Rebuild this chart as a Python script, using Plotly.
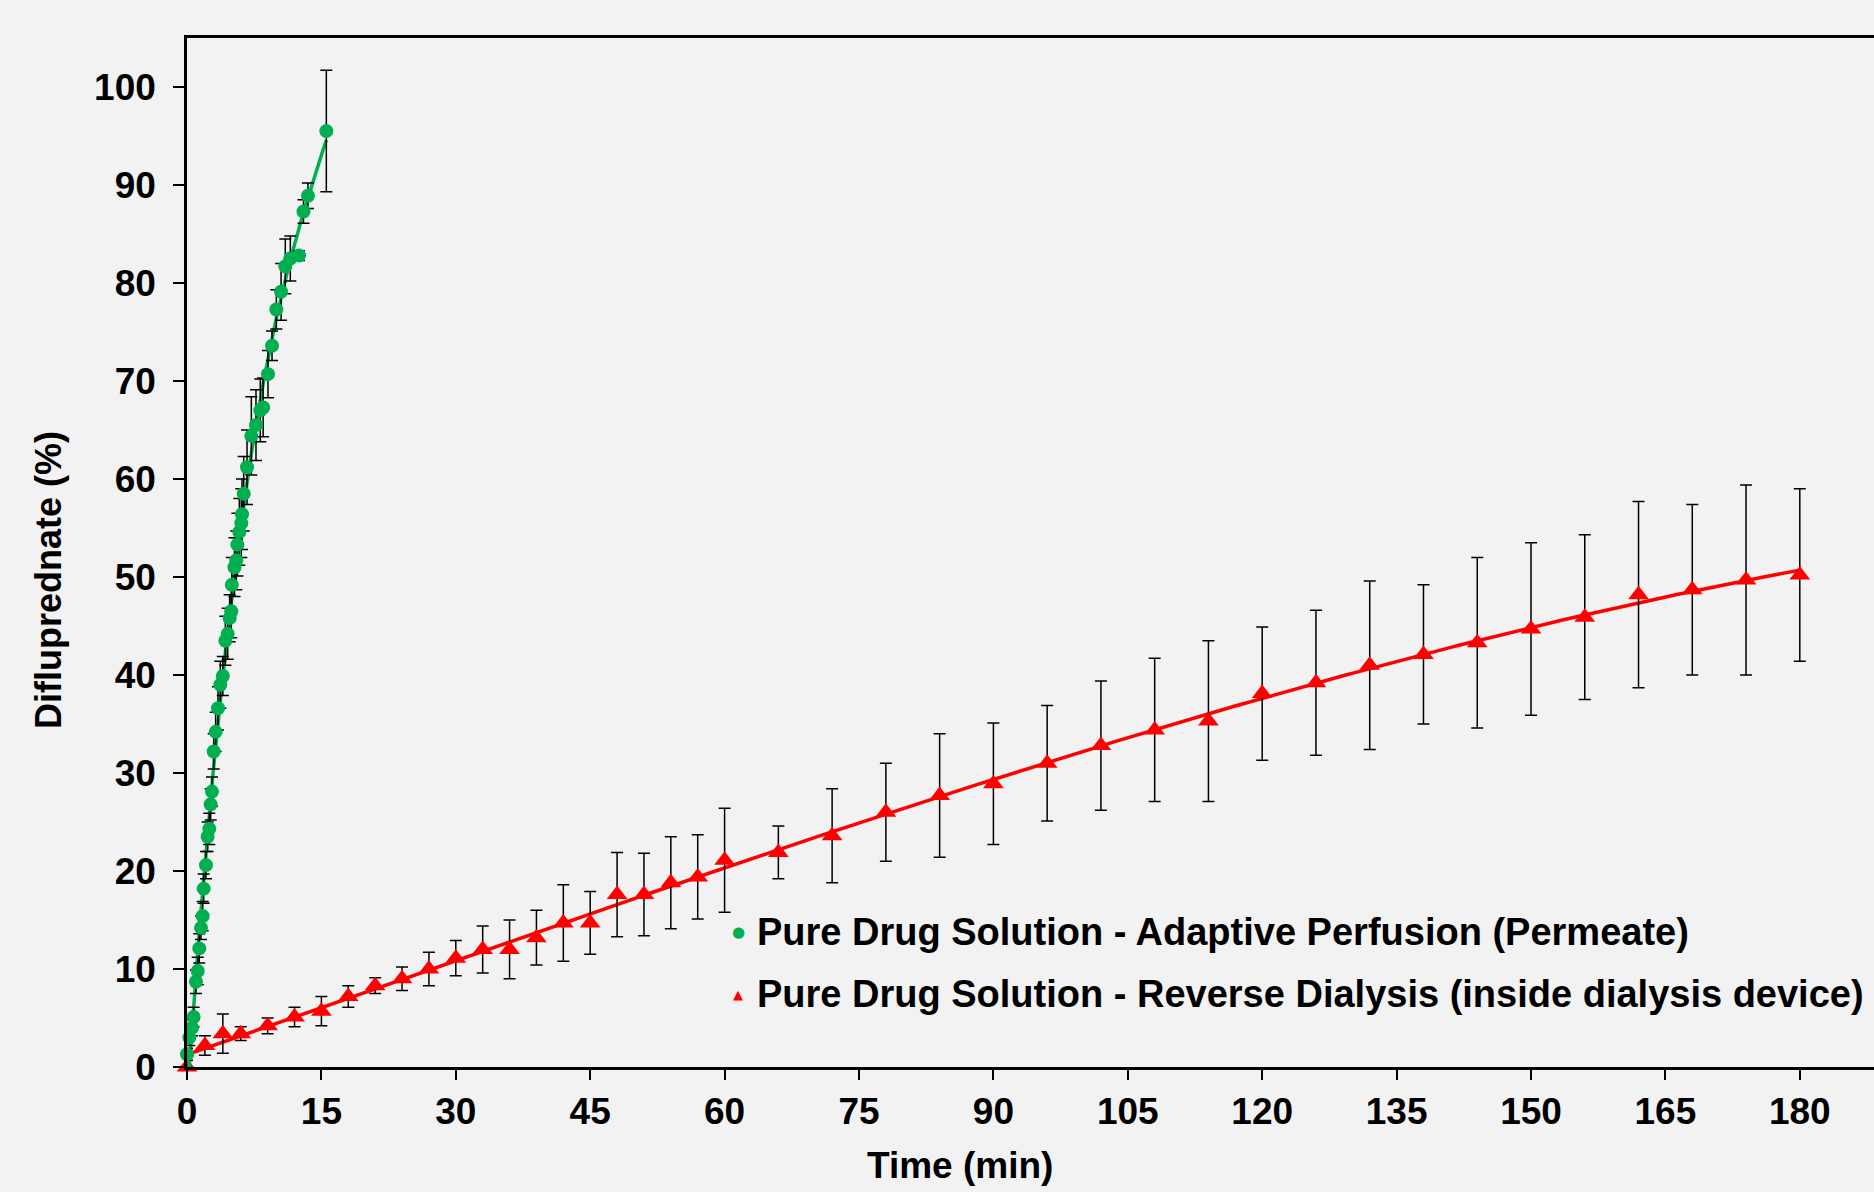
import numpy as np
import plotly.graph_objects as go

# ---- Data: Pure Drug Solution - Adaptive Perfusion (Permeate) ----
green_time = [0.0, 0.26, 0.56, 0.74, 1.0, 1.2, 1.37, 1.56, 1.75, 1.86, 2.12, 2.3, 2.49, 2.64,
              2.79, 2.98, 3.2, 3.46, 3.72, 4.0, 4.28, 4.54, 4.76, 4.94, 5.0, 5.3, 5.5, 5.62,
              5.84, 6.06, 6.14, 6.33, 6.7, 7.18, 7.7, 8.18, 8.5, 9.04, 9.49, 9.97, 10.5,
              10.97, 11.53, 12.5, 13.0, 13.5, 15.55]
green_value = [1.3, 3.0, 4.0, 5.1, 8.7, 9.8, 12.1, 14.2, 15.4, 18.2, 20.6, 23.5, 24.3, 26.8,
               28.1, 32.2, 34.2, 36.6, 39.0, 39.9, 43.5, 44.2, 45.8, 46.5, 49.2, 51.0, 51.7, 53.3,
               54.6, 55.5, 56.4, 58.5, 61.2, 64.4, 65.5, 67.0, 67.3, 70.7, 73.6, 77.3, 79.1,
               81.7, 82.5, 82.8, 87.3, 88.9, 95.5]
green_err = [0.6, 0.8, 0.8, 1.0, 1.2, 1.4, 1.5, 1.2, 1.5, 1.5, 1.4, 1.5, 1.6, 1.6,
             1.5, 1.8, 2.0, 2.2, 2.4, 2.0, 2.5, 2.6, 2.4, 2.7, 2.8, 3.0, 3.0, 3.2,
             3.4, 3.5, 3.6, 3.8, 3.8, 4.0, 3.6, 3.2, 3.0, 2.4, 1.5, 2.0, 2.9,
             2.8, 2.3, 0.5, 1.2, 1.3, 6.2]

# ---- Data: Pure Drug Solution - Reverse Dialysis (inside dialysis device) ----
red_time = [0, 2, 4, 6, 9, 12, 15, 18, 21, 24, 27, 30, 33, 36, 39, 42, 45, 48, 51, 54, 57, 60,
            66, 72, 78, 84, 90, 96, 102, 108, 114, 120, 126, 132, 138, 144, 150, 156, 162,
            168, 174, 180]
red_value = [0.0, 2.2, 3.4, 3.4, 4.2, 5.1, 5.7, 7.2, 8.3, 9.0, 10.0, 11.1, 12.0, 12.0, 13.2,
             14.7, 14.7, 17.6, 17.6, 18.8, 19.4, 21.1, 21.9, 23.6, 26.0, 27.7, 28.9, 31.0,
             32.8, 34.4, 35.3, 38.1, 39.2, 41.0, 42.1, 43.3, 44.7, 45.9, 48.2, 48.7, 49.7, 50.2]
red_err = [0.0, 1.0, 2.0, 0.7, 0.8, 1.0, 1.5, 1.1, 0.8, 1.2, 1.7, 1.8, 2.4, 3.0, 2.8,
           3.9, 3.2, 4.3, 4.2, 4.7, 4.3, 5.3, 2.7, 4.8, 5.0, 6.3, 6.2, 5.9,
           6.6, 7.3, 8.2, 6.8, 7.4, 8.6, 7.1, 8.7, 8.8, 8.4, 9.5, 8.7, 9.7, 8.8]

x_ticks = [0, 15, 30, 45, 60, 75, 90, 105, 120, 135, 150, 165, 180]
y_ticks = [0, 10, 20, 30, 40, 50, 60, 70, 80, 90, 100]

legend_green = "Pure Drug Solution - Adaptive Perfusion (Permeate)"
legend_red = "Pure Drug Solution - Reverse Dialysis (inside dialysis device)"

GREEN = "#00B050"
RED = "#FF0000"
BG = "#F2F2F2"
FONT = "Liberation Sans, Arial, sans-serif"
SYMFONT = "DejaVu Sans, Liberation Sans, sans-serif"

L, T, B = 187, 38, 125
PW = 1874 - L
PH = 1192 - T - B


def px(xp):
    return (xp - L) / PW


def py(yp):
    return (1192 - B - yp) / PH


# polynomial trendlines (as in the source chart)
gcoef = np.polyfit(green_time, green_value, 3)
gx = np.linspace(min(green_time), max(green_time), 200)
gy = np.polyval(gcoef, gx)
rcoef = np.polyfit(red_time, red_value, 3)
rx = np.linspace(min(red_time), max(red_time), 300)
ry = np.polyval(rcoef, rx)

fig = go.Figure()

fig.add_trace(go.Scatter(x=rx, y=ry, mode="lines", line=dict(color=RED, width=3.5),
                         showlegend=False, hoverinfo="skip"))
fig.add_trace(go.Scatter(x=red_time, y=red_value, mode="markers", name=legend_red,
                         marker=dict(symbol="triangle-up", size=18, color=RED),
                         error_y=dict(type="data", array=red_err, color="black",
                                      thickness=1.5, width=6),
                         showlegend=False, cliponaxis=False))
fig.add_trace(go.Scatter(x=gx, y=gy, mode="lines", line=dict(color=GREEN, width=3.5),
                         showlegend=False, hoverinfo="skip"))
fig.add_trace(go.Scatter(x=green_time, y=green_value, mode="markers", name=legend_green,
                         marker=dict(symbol="circle", size=14, color=GREEN),
                         error_y=dict(type="data", array=green_err, color="black",
                                      thickness=1.5, width=6),
                         showlegend=False, cliponaxis=False))

legend_rows = [(legend_green, "●", GREEN, 15, 932), (legend_red, "▲", RED, 13, 994)]
annotations = []
for label, sym, col, ssize, yrow in legend_rows:
    annotations.append(dict(text=sym, xref="paper", yref="paper", x=px(738), y=py(yrow),
                            xanchor="center", yanchor="middle", showarrow=False,
                            font=dict(family=SYMFONT, size=ssize, color=col)))
    annotations.append(dict(text="<b>" + label + "</b>", xref="paper", yref="paper",
                            x=px(755), y=py(yrow), xanchor="left", yanchor="middle",
                            showarrow=False,
                            font=dict(family=FONT, size=38, color="black")))

annotations.append(dict(text="<b>Time (min)</b>", xref="paper", yref="paper",
                        x=px(960), y=py(1143), xanchor="center", yanchor="top",
                        showarrow=False, font=dict(family=FONT, size=37, color="black")))
annotations.append(dict(text="<b>Difluprednate (%)</b>", xref="paper", yref="paper",
                        x=px(48), y=py(580), xanchor="center", yanchor="middle",
                        textangle=-90, showarrow=False,
                        font=dict(family=FONT, size=36, color="black")))

fig.update_layout(
    width=1874, height=1192,
    margin=dict(l=L, r=0, t=T, b=B),
    paper_bgcolor=BG, plot_bgcolor=BG,
    font=dict(family=FONT, color="black"),
    showlegend=False,
    xaxis=dict(range=[0, PW / 8.96], tickvals=x_ticks, ticktext=[str(v) for v in x_ticks],
               showgrid=False, zeroline=False, showline=True, linecolor="black",
               linewidth=2.5, mirror=True, ticks="outside", ticklen=10, tickwidth=1.5,
               tickcolor="black", ticklabelstandoff=0, automargin=False,
               tickfont=dict(family=FONT, size=37, color="black", weight="bold")),
    yaxis=dict(range=[0, 105], tickvals=y_ticks, ticktext=[str(v) for v in y_ticks],
               showgrid=False, zeroline=False, showline=True, linecolor="black",
               linewidth=2.5, ticks="outside", ticklen=11, tickwidth=1.5,
               tickcolor="black", ticklabelstandoff=10, automargin=False,
               tickfont=dict(family=FONT, size=37, color="black", weight="bold")),
    annotations=annotations,
)

fig.write_html(
    "out.html",
    config={"displayModeBar": False},
    post_script="document.body.style.margin='0';document.body.style.background='#F2F2F2';"
                "document.body.style.overflow='hidden';",
)
